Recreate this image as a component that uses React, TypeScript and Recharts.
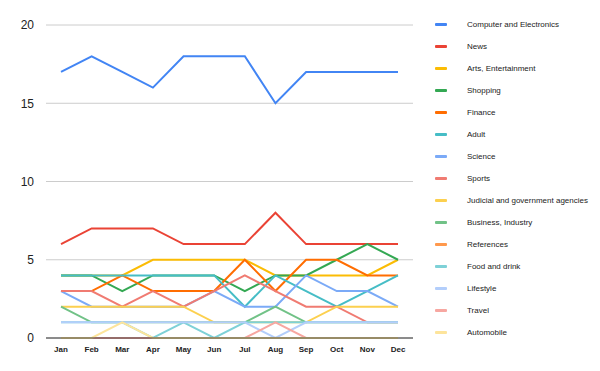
import React from "react";
import { LineChart, Line, XAxis, YAxis, CartesianGrid } from "recharts";

const months = ["Jan", "Feb", "Mar", "Apr", "May", "Jun", "Jul", "Aug", "Sep", "Oct", "Nov", "Dec"];

const computerElectronics = [17, 18, 17, 16, 18, 18, 18, 15, 17, 17, 17, 17];
const news = [6, 7, 7, 7, 6, 6, 6, 8, 6, 6, 6, 6];
const artsEntertainment = [4, 4, 4, 5, 5, 5, 5, 4, 4, 4, 4, 5];
const shopping = [4, 4, 3, 4, 4, 4, 3, 4, 4, 5, 6, 5];
const finance = [3, 3, 4, 3, 3, 3, 5, 3, 5, 5, 4, 4];
const adult = [4, 4, 4, 4, 4, 4, 2, 4, 3, 2, 3, 4];
const science = [3, 2, 2, 2, 2, 3, 2, 2, 4, 3, 3, 2];
const sports = [3, 3, 2, 3, 2, 3, 4, 3, 2, 2, 1, 1];
const judicial = [2, 2, 2, 2, 2, 1, 1, 1, 1, 2, 2, 2];
const business = [2, 1, 1, 1, 1, 1, 1, 2, 1, 1, 1, 1];
const references = [0, 0, 0, 0, 0, 0, 0, 0, 0, 0, 0, 0];
const foodDrink = [1, 1, 1, 0, 1, 0, 1, 1, 1, 1, 1, 1];
const lifestyle = [1, 1, 1, 1, 1, 1, 1, 0, 1, 1, 1, 1];
const travel = [0, 0, 0, 0, 0, 0, 0, 1, 0, 0, 0, 0];
const automobile = [0, 0, 1, 0, 0, 0, 0, 0, 0, 0, 0, 0];

const yTicks = [0, 5, 10, 15, 20];

const series = [
  { key: "Computer and Electronics", values: computerElectronics, color: "#4285f4" },
  { key: "News", values: news, color: "#ea4335" },
  { key: "Arts, Entertainment", values: artsEntertainment, color: "#fbbc04" },
  { key: "Shopping", values: shopping, color: "#34a853" },
  { key: "Finance", values: finance, color: "#ff6d01" },
  { key: "Adult", values: adult, color: "#46bdc6" },
  { key: "Science", values: science, color: "#7baaf7" },
  { key: "Sports", values: sports, color: "#f07b72" },
  { key: "Judicial and government agencies", values: judicial, color: "#fcd04f" },
  { key: "Business, Industry", values: business, color: "#71c287" },
  { key: "References", values: references, color: "#ff994d" },
  { key: "Food and drink", values: foodDrink, color: "#7ed1d7" },
  { key: "Lifestyle", values: lifestyle, color: "#b3cefb" },
  { key: "Travel", values: travel, color: "#f7a7a1" },
  { key: "Automobile", values: automobile, color: "#fde49b" },
];

const data = months.map((m, i) => {
  const row: Record<string, any> = { month: m };
  series.forEach((s) => {
    row[s.key] = s.values[i];
  });
  return row;
});

const font = "Liberation Sans, Arial, sans-serif";

export default function App() {
  return (
    <div style={{ position: "absolute", left: 0, top: 0, width: 600, height: 371, background: "#fff" }}>
      <LineChart
        width={600}
        height={371}
        data={data}
        margin={{ top: 25, right: 187, bottom: 13, left: 0 }}
      >
        <CartesianGrid vertical={false} stroke="#cccccc" />
        <XAxis
          dataKey="month"
          padding={{ left: 15, right: 15 }}
          tickLine={false}
          axisLine={{ stroke: "#333333", strokeWidth: 1 }}
          tick={{ fontSize: 8, fill: "#222", fontFamily: font, fontWeight: "bold" }}
          tickMargin={2}
          height={20}
          interval={0}
        />
        <YAxis
          domain={[0, 20]}
          ticks={yTicks}
          tickLine={false}
          axisLine={false}
          width={46}
          tickMargin={6}
          tick={{ fontSize: 12, fill: "#222", fontFamily: font }}
        />
        {series.map((s) => (
          <Line
            key={s.key}
            type="linear"
            dataKey={s.key}
            stroke={s.color}
            strokeWidth={2}
            dot={false}
            activeDot={false}
            isAnimationActive={false}
          />
        ))}
      </LineChart>
      <div style={{ position: "absolute", left: 435, top: 13, width: 165, fontFamily: font }}>
        {series.map((s) => (
          <div key={s.key} style={{ display: "flex", alignItems: "center", height: 22 }}>
            <div style={{ width: 12, height: 3, background: s.color, borderRadius: 1 }} />
            <div style={{ marginLeft: 20, fontSize: 8, color: "#222", whiteSpace: "nowrap" }}>{s.key}</div>
          </div>
        ))}
      </div>
    </div>
  );
}
